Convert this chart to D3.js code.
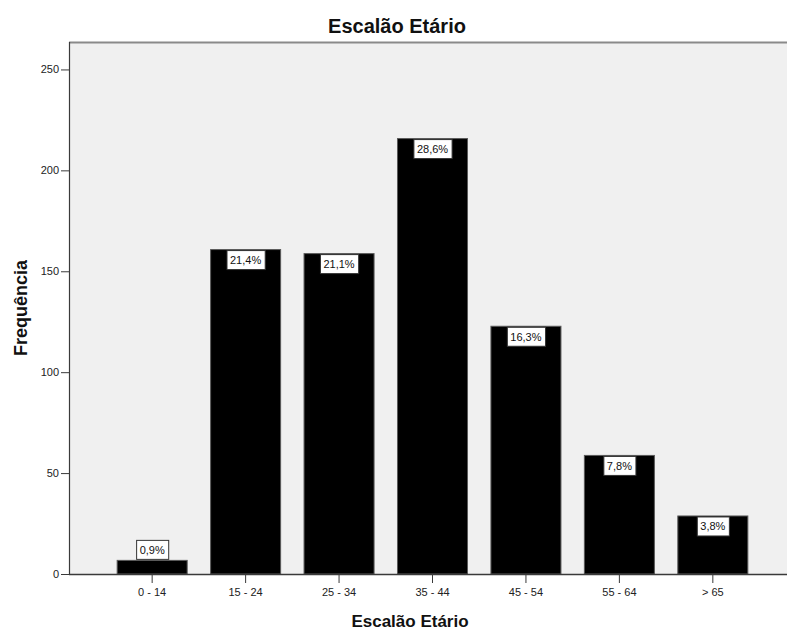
<!DOCTYPE html>
<html>
<head>
<meta charset="utf-8">
<script src="https://cdn.jsdelivr.net/npm/d3@7/dist/d3.min.js"></script>
<style>
  html, body { margin: 0; padding: 0; background: #fff; }
  svg { display: block; font-family: "Liberation Sans", Arial, sans-serif; }
</style>
</head>
<body>
<svg id="chart" width="787" height="630"></svg>
<script>
// Age bands and respondent counts
const categories = ["0 - 14", "15 - 24", "25 - 34", "35 - 44", "45 - 54", "55 - 64", "> 65"];
const counts = [7, 161, 159, 216, 123, 59, 29];
const yTicks = [0, 50, 100, 150, 200, 250];

const chartTitle = "Escalão Etário";
const xTitle = "Escalão Etário";
const yTitle = "Frequência";

const total = d3.sum(counts);
const pctLabel = v => (v / total * 100).toFixed(1).replace(".", ",") + "%";

const svg = d3.select("#chart");
const W = 787, H = 630;
const plot = { left: 69, top: 42, bottom: 574, right: 796 };

const x = d3.scaleBand()
  .domain(categories)
  .range([plot.left, plot.right])
  .paddingInner(0.24)
  .paddingOuter(0.51);

const y = d3.scaleLinear()
  .domain([0, 263.6])
  .range([plot.bottom, plot.top]);

// plot background
svg.append("rect")
  .attr("x", plot.left).attr("y", plot.top)
  .attr("width", W - plot.left).attr("height", plot.bottom - plot.top)
  .attr("fill", "#f0f0f0");

// top frame line
svg.append("line")
  .attr("x1", plot.left).attr("x2", W)
  .attr("y1", plot.top + 0.5).attr("y2", plot.top + 0.5)
  .attr("stroke", "#8a8a8a").attr("stroke-width", 2);

// bars
svg.append("g").selectAll("rect")
  .data(counts)
  .join("rect")
  .attr("x", (d, i) => x(categories[i]) + 0.5)
  .attr("y", d => y(d) + 0.5)
  .attr("width", x.bandwidth() - 1)
  .attr("height", d => y(0) - y(d) - 0.5)
  .attr("fill", "#000")
  .attr("stroke", "#5a5a5a")
  .attr("stroke-width", 1);

// y axis
const yAxis = svg.append("g")
  .attr("transform", `translate(${plot.left},0)`)
  .call(d3.axisLeft(y).tickValues(yTicks).tickSize(8).tickSizeOuter(0).tickPadding(2));
yAxis.select(".domain").attr("stroke", "#3a3a3a").attr("stroke-width", 1.2)
  .attr("d", `M0.5,${plot.top}V${plot.bottom}`);
yAxis.selectAll(".tick line").attr("stroke", "#3a3a3a");
yAxis.selectAll(".tick text")
  .attr("font-size", 11).attr("fill", "#222")
  .attr("font-family", "'Liberation Sans', Arial, sans-serif");

// x axis
const xAxis = svg.append("g")
  .attr("transform", `translate(0,${plot.bottom})`)
  .call(d3.axisBottom(x).tickSize(9).tickSizeOuter(0).tickPadding(5));
xAxis.select(".domain").attr("stroke", "#3a3a3a").attr("stroke-width", 1.5)
  .attr("d", `M${plot.left},0.5H${W}`);
xAxis.selectAll(".tick line").attr("stroke", "#3a3a3a");
xAxis.selectAll(".tick text")
  .attr("font-size", 11).attr("fill", "#222")
  .attr("font-family", "'Liberation Sans', Arial, sans-serif");

// percentage labels in white boxes
const boxH = 20;
const labels = svg.append("g").selectAll("g")
  .data(counts)
  .join("g");
labels.each(function (d, i) {
  const g = d3.select(this);
  const cx = x(categories[i]) + x.bandwidth() / 2;
  const t = g.append("text")
    .attr("x", cx)
    .attr("text-anchor", "middle")
    .attr("font-size", 11)
    .attr("fill", "#111")
    .text(pctLabel(d));
  const tw = t.node().getComputedTextLength();
  const bw = tw + 7;
  const barH = y(0) - y(d);
  const top = barH > boxH + 6 ? y(d) + 1 : y(d) - boxH;
  g.insert("rect", "text")
    .attr("x", cx - bw / 2 + 0.5)
    .attr("y", top + 0.5)
    .attr("width", bw)
    .attr("height", boxH - 1)
    .attr("fill", "#fff")
    .attr("stroke", "#333")
    .attr("stroke-width", 1);
  t.attr("y", top + boxH / 2 + 4);
});

// titles
svg.append("text")
  .attr("x", 397).attr("y", 33)
  .attr("text-anchor", "middle")
  .attr("font-size", 20).attr("font-weight", "bold")
  .attr("fill", "#111")
  .text(chartTitle);

svg.append("text")
  .attr("x", 410).attr("y", 627)
  .attr("text-anchor", "middle")
  .attr("font-size", 17).attr("font-weight", "bold")
  .attr("fill", "#111")
  .text(xTitle);

svg.append("text")
  .attr("transform", "translate(27,308) rotate(-90)")
  .attr("text-anchor", "middle")
  .attr("font-size", 18).attr("font-weight", "bold")
  .attr("fill", "#111")
  .text(yTitle);
</script>
</body>
</html>
